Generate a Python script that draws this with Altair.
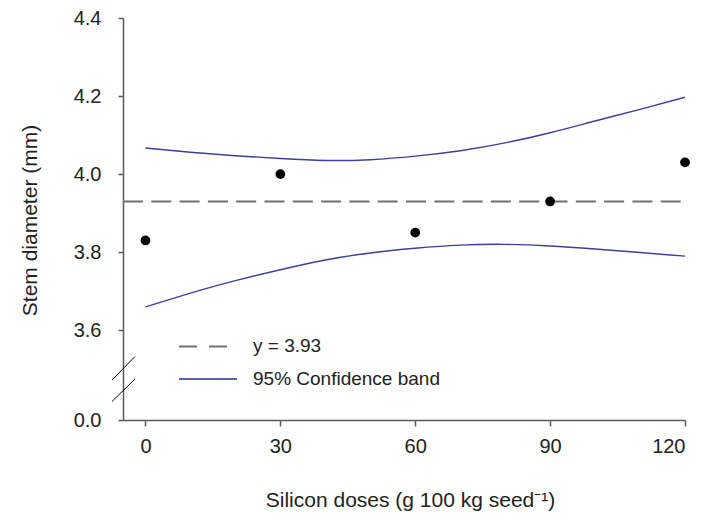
import altair as alt
import pandas as pd

# ---- data ----
doses = [0, 30, 60, 90, 120]
diameter = [3.83, 4.00, 3.85, 3.93, 4.03]
mean_value = 3.93

band_doses = [0, 10, 20, 30, 40, 50, 60, 70, 80, 90, 100, 110, 120]
band_upper = [4.067, 4.056, 4.047, 4.040, 4.035, 4.037, 4.046, 4.060, 4.080, 4.106, 4.136, 4.166, 4.197]
band_lower = [3.660, 3.695, 3.727, 3.755, 3.780, 3.798, 3.810, 3.818, 3.820, 3.816, 3.808, 3.799, 3.790]

x_ticks = [0, 30, 60, 90, 120]
y_ticks = [3.6, 3.8, 4.0, 4.2, 4.4]
zero_label = "0.0"
legend_labels = ["y = 3.93", "95% Confidence band"]
x_title = "Silicon doses (g 100 kg seed\u207b\u00b9)"
y_title = "Stem diameter (mm)"

# ---- layout ----
W, H = 562, 402
BREAK = 3.37  # position on the broken axis where "0.0" is drawn
FONT = "Liberation Sans, Arial, Helvetica, sans-serif"
BLUE = "#3b3fa3"
GREY = "#707070"
AX = "#5a5a5a"

xscale = alt.Scale(domain=[-5, 120], nice=False, zero=False)
yscale = alt.Scale(domain=[BREAK, 4.4], nice=False, zero=False)

xaxis = alt.Axis(values=x_ticks, format="d", tickSize=6, labelPadding=10,
                 title=x_title, titleX=287, titleY=80, titleBaseline="middle",
                 titleAlign="center")
yaxis = alt.Axis(values=[BREAK] + y_ticks,
                 labelExpr=f"datum.value < 3.5 ? '{zero_label}' : format(datum.value, '.1f')",
                 tickSize=5, labelPadding=17, title=y_title,
                 titleX=-93, titleY=202, titleAngle=270, titleAlign="center",
                 titleBaseline="middle")

pts = pd.DataFrame({"dose": doses, "d": diameter})
band = pd.DataFrame({
    "dose": band_doses * 2,
    "d": band_upper + band_lower,
    "bound": ["upper"] * len(band_doses) + ["lower"] * len(band_doses),
})
mean_df = pd.DataFrame({"d": [mean_value]})

X = alt.X("dose:Q", scale=xscale, axis=xaxis)
Y = alt.Y("d:Q", scale=yscale, axis=yaxis)

points = alt.Chart(pts).mark_circle(size=95, color="black", opacity=1).encode(x=X, y=Y)

lines = alt.Chart(band).mark_line(color=BLUE, strokeWidth=1.4, interpolate="natural").encode(
    x=X, y=Y, detail="bound:N")

mean_rule = alt.Chart(mean_df).mark_rule(color=GREY, strokeWidth=2, strokeDash=[20, 8.3]).encode(
    y=Y, x=alt.value(0), x2=alt.value(W))

# axis-break slashes
slash1 = alt.Chart(mean_df).mark_rule(color="black", strokeWidth=1).encode(
    x=alt.value(-11), x2=alt.value(12), y=alt.value(362), y2=alt.value(338.5))
slash2 = alt.Chart(mean_df).mark_rule(color="black", strokeWidth=1).encode(
    x=alt.value(-11), x2=alt.value(12), y=alt.value(383.5), y2=alt.value(361))

# manual legend
leg_dash = alt.Chart(mean_df).mark_rule(color=GREY, strokeWidth=2, strokeDash=[18, 12]).encode(
    x=alt.value(56), x2=alt.value(106), y=alt.value(328.5))
leg_line = alt.Chart(mean_df).mark_rule(color="#5b60b8", strokeWidth=2).encode(
    x=alt.value(56), x2=alt.value(114), y=alt.value(361))
leg_text1 = alt.Chart(mean_df).mark_text(
    align="left", baseline="middle", font=FONT, fontSize=19, color="#222",
    text=legend_labels[0]).encode(x=alt.value(130), y=alt.value(328))
leg_text2 = alt.Chart(mean_df).mark_text(
    align="left", baseline="middle", font=FONT, fontSize=19, color="#222",
    text=legend_labels[1]).encode(x=alt.value(130), y=alt.value(361))

chart = alt.layer(
    mean_rule, lines, points, slash1, slash2, leg_dash, leg_line, leg_text1, leg_text2
).properties(
    width=W, height=H,
    autosize=alt.AutoSizeParams(type="none"),
    padding={"left": 115, "top": 10, "right": 11, "bottom": 98},
).configure_view(stroke=None).configure_axis(
    grid=False, domainColor=AX, domainWidth=1.5, tickColor=AX, tickWidth=1.5,
    labelFont=FONT, labelFontSize=20, labelColor="#222",
    titleFont=FONT, titleFontSize=21, titleFontWeight="normal", titleColor="#222",
)

chart.save("out.html", embed_options={"renderer": "svg", "actions": False})
